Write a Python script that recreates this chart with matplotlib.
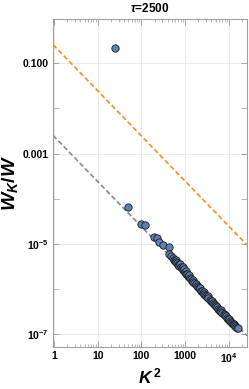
import numpy as np
import matplotlib
matplotlib.use("Agg")
import matplotlib.pyplot as plt
from matplotlib.ticker import FixedLocator, NullFormatter

plt.rcParams['font.family'] = ['Liberation Sans', 'DejaVu Sans']
plt.rcParams['mathtext.fontset'] = 'custom'
plt.rcParams['mathtext.rm'] = 'Liberation Sans:bold'
plt.rcParams['mathtext.bf'] = 'Liberation Sans:bold'
plt.rcParams['mathtext.it'] = 'Liberation Sans:bold:italic'

# Daten: K^2 und W_K/W
k2 = [25, 50, 100, 120, 197, 223, 247, 304, 417, 434, 472, 525, 560, 590,
      614, 625, 660, 700, 720, 740, 759, 785, 830, 870, 880, 930, 950, 985,
      1020, 1040, 1100, 1165, 1230, 1250, 1300, 1380, 1460, 1500, 1545, 1635,
      1730, 1800, 1830, 1940, 2050, 2170, 2200, 2300, 2430, 2570, 2650, 2720,
      2880, 3050, 3230, 3300, 3420, 3620, 3830, 4050, 4100, 4290, 4540, 4800,
      5080, 5200, 5380, 5690, 6020, 6370, 6500, 6740, 7130, 7550, 7990, 8200,
      8450, 8940, 9460, 10010, 10300, 10590, 11200, 11850, 12540, 12900,
      13270, 14040, 14860, 15700, 16600]
wk = [0.22, 6.5e-5, 2.8e-5, 2.6e-5, 1.45e-5, 1.36e-5, 1.09e-5, 9.2e-6,
      8.7e-6, 6.0e-6, 5.5e-6, 4.8e-6, 4.3e-6, 4.2e-6,
      4.4e-6, 3.9e-6, 3.7e-6, 3.4e-6, 3.55e-6, 3.2e-6, 3.6e-6, 3.0e-6,
      2.9e-6, 3.0e-6, 2.6e-6, 2.55e-6, 2.8e-6, 2.35e-6,
      2.5e-6, 2.15e-6, 2.1e-6, 1.95e-6, 1.85e-6, 2.0e-6, 1.72e-6, 1.65e-6,
      1.5e-6, 1.6e-6, 1.45e-6, 1.33e-6,
      1.28e-6, 1.3e-6, 1.17e-6, 1.13e-6, 1.05e-6, 1.0e-6, 1.07e-6, 9.2e-7,
      9.0e-7, 8.2e-7, 8.7e-7, 7.9e-7,
      7.3e-7, 7.0e-7, 6.5e-7, 6.9e-7, 6.2e-7, 5.8e-7, 5.5e-7, 5.1e-7,
      5.4e-7, 4.9e-7, 4.6e-7, 4.4e-7,
      4.1e-7, 4.3e-7, 3.9e-7, 3.65e-7, 3.5e-7, 3.25e-7, 3.4e-7, 3.1e-7,
      2.9e-7, 2.8e-7, 2.6e-7, 2.7e-7,
      2.48e-7, 2.33e-7, 2.22e-7, 2.07e-7, 2.15e-7, 1.97e-7, 1.85e-7,
      1.76e-7, 1.65e-7, 1.7e-7,
      1.57e-7, 1.48e-7, 1.41e-7, 1.37e-7, 1.34e-7]

# Referenzlinien ~ 1/K^2
x_line = [0.95, 26000]
orange_amp = 0.245
gray_amp = 2.4e-3

xticks = [1, 10, 100, 1000, 10000]
xlabels = ['1', '10', '100', '1000', r'$10^4$']
yticks = [0.1, 1e-3, 1e-5, 1e-7]
ylabels = ['0.100', '0.001', r'$10^{-5}$', r'$10^{-7}$']

fig = plt.figure(figsize=(2.49, 3.89), dpi=100)
ax = fig.add_axes([0.213, 0.108, 0.779, 0.843])

ax.plot(x_line, [orange_amp / v for v in x_line], ls=(0, (3, 1.6)), color='#F39019', lw=1.2)
ax.plot(x_line, [gray_amp / v for v in x_line], ls=(0, (3, 1.6)), color='#8a8a8a', lw=1.2)
ax.scatter(k2, wk, s=28, color='#5E81B5', edgecolor='#1c1c1c', linewidth=0.6, zorder=3)

ax.set_xscale('log')
ax.set_yscale('log')
ax.set_xlim(0.95, 26000)
ax.set_ylim(5.2e-8, 0.95)

ax.xaxis.set_major_locator(FixedLocator(xticks))
ax.set_xticklabels(xlabels)
ax.xaxis.set_minor_locator(FixedLocator([m * 10**e for e in range(0, 5) for m in range(2, 10)]))
ax.xaxis.set_minor_formatter(NullFormatter())
ax.yaxis.set_major_locator(FixedLocator(yticks))
ax.set_yticklabels(ylabels)
ax.yaxis.set_minor_locator(FixedLocator([1e-2, 1e-4, 1e-6]))
ax.yaxis.set_minor_formatter(NullFormatter())

ax.grid(True, which='major', color='#e6e6e6', lw=0.6)
ax.set_axisbelow(True)
ax.tick_params(which='both', direction='in', top=True, right=True, color='#9a9a9a',
               labelsize=7.5, pad=3)
ax.tick_params(which='major', length=4, width=0.6)
ax.tick_params(which='minor', length=2, width=0.5)
ax.tick_params(axis='y', which='minor', length=4)
for lab in ax.get_xticklabels() + ax.get_yticklabels():
    lab.set_fontweight('bold')
for sp in ax.spines.values():
    sp.set_color('#a0a0a0')
    sp.set_linewidth(0.8)

ax.set_title(r'$\tau$=2500', fontsize=8.5, fontweight='bold', pad=5)
ax.set_xlabel(r'$K^{\,2}$', fontsize=12.5, labelpad=1)
ax.set_ylabel(r'$W_K/W$', fontsize=14, labelpad=2)

fig.savefig('out.png', dpi=100)
